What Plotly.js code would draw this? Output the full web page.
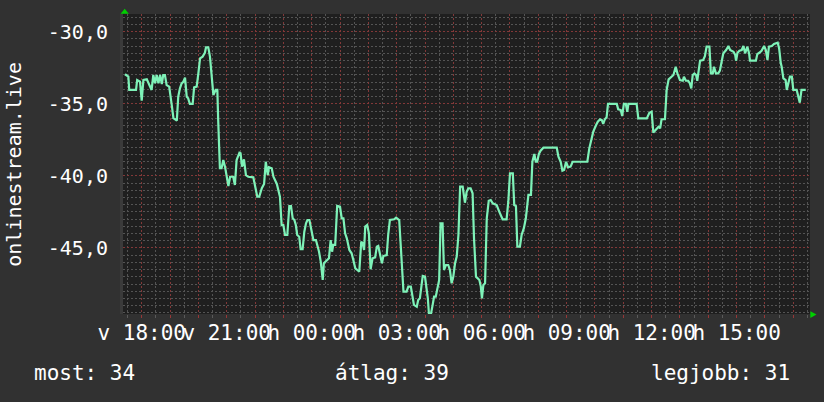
<!DOCTYPE html>
<html>
<head>
<meta charset="utf-8">
<script src="https://cdn.plot.ly/plotly-3.0.1.min.js"></script>
<style>html,body{margin:0;padding:0;background:#313131;}#chart{width:824px;height:402px;}</style>
</head>
<body>
<div id="chart"></div>
<script>
// hours since Sunday 18:00
const hours = [
-0.59,-0.47,-0.44,-0.20,-0.16,-0.06,0.00,0.06,0.18,0.23,
0.35,0.41,0.47,0.53,0.59,0.65,0.71,0.76,0.82,0.88,
0.97,1.06,1.12,1.24,1.29,1.35,1.41,1.47,1.53,1.59,
1.64,1.70,1.80,1.85,1.94,2.00,2.06,2.15,2.23,2.27,
2.35,2.41,2.47,2.53,2.61,2.67,2.70,2.76,2.82,2.88,
2.94,3.00,3.06,3.12,3.23,3.29,3.35,3.45,3.49,3.54,
3.61,3.68,3.76,3.94,4.00,4.08,4.15,4.24,4.32,4.38,
4.45,4.49,4.59,4.65,4.77,4.88,
4.94,5.00,5.06,5.14,5.21,5.27,5.33,5.39,5.44,5.49,
5.56,5.61,5.68,5.74,5.80,5.85,5.92,5.98,6.06,6.15,
6.26,6.32,6.39,6.43,6.53,6.61,6.67,6.72,6.76,6.83,
6.90,7.00,7.06,7.12,7.18,7.24,7.33,7.41,7.47,7.54,
7.61,7.68,7.75,7.80,7.85,7.89,7.96,8.02,8.08,8.15,
8.24,8.30,8.35,8.41,8.48,8.53,8.65,8.70,8.76,8.91,
8.98,9.09,9.18,9.24,9.35,9.41,9.50,9.55,9.61,9.71,
9.76,9.82,9.88,9.92,10.00,10.04,10.10,10.14,10.21,10.27,
10.32,10.38,10.43,10.50,10.55,10.62,10.67,10.74,10.82,10.88,
10.94,11.00,11.06,11.12,11.18,11.24,11.33,11.41,11.47,11.53,
11.61,11.68,11.73,11.80,11.92,11.97,12.01,12.06,12.12,12.18,
12.25,12.32,12.39,12.53,12.62,12.74,12.88,12.94,13.00,13.10,
13.15,13.21,13.26,13.35,13.41,13.49,13.56,13.65,13.74,
13.79,13.86,13.91,13.96,14.02,14.08,14.18,14.65,14.71,14.79,
14.85,14.91,14.98,15.05,15.14,15.21,15.73,15.80,15.88,15.94,
16.04,16.10,16.18,16.24,16.29,16.35,16.41,16.46,16.77,16.82,
16.91,16.96,17.02,17.09,17.14,17.18,17.47,17.53,17.83,17.92,
18.00,18.06,18.14,18.24,18.30,18.35,18.47,18.53,18.60,18.71,
18.77,18.85,18.91,19.00,19.10,19.14,19.21,19.29,19.35,19.40,
19.45,19.51,19.57,19.61,19.65,19.71,19.82,19.88,19.94,20.04,
20.09,20.16,20.20,20.27,20.35,20.41,20.47,20.53,20.63,20.71,
20.77,20.85,20.89,20.95,20.98,21.03,21.10,21.18,21.24,21.30,
21.38,21.44,21.47,21.68,21.73,21.80,21.88,21.97,22.03,22.09,
22.14,22.24,22.32,22.45,22.50,22.56,22.59,22.65,22.73,22.77,
22.82,22.88,22.95,23.00,23.12,23.17,23.23,23.29,23.44
];
const values = [
-32.95,-33.12,-34.04,-34.04,-33.35,-33.47,-34.78,-33.35,-33.30,-33.54,
-34.04,-33.00,-33.58,-33.00,-33.58,-33.00,-33.63,-33.00,-33.00,-33.70,
-33.81,-35.08,-36.00,-36.17,-34.51,-33.93,-33.58,-33.47,-33.19,-34.51,
-34.62,-35.01,-35.01,-33.86,-33.81,-32.89,-31.85,-31.73,-31.46,-31.08,
-31.08,-31.73,-32.89,-34.39,-34.04,-34.04,-36.12,-39.47,-39.47,-38.90,
-39.36,-40.06,-40.70,-40.06,-40.06,-40.63,-38.90,-38.39,-38.43,-39.36,
-38.85,-39.94,-40.06,-40.10,-40.63,-41.44,-41.44,-40.86,-40.56,-39.02,
-39.94,-39.40,-39.47,-40.06,-40.56,-41.44,
-43.41,-43.41,-44.10,-44.10,-42.09,-42.09,-42.94,-43.06,-43.41,-44.10,
-44.22,-45.09,-45.09,-43.87,-43.29,-43.06,-43.06,-43.63,-44.45,-44.45,
-45.26,-45.95,-47.22,-46.06,-45.83,-45.71,-44.45,-45.26,-44.79,-44.79,
-42.09,-42.14,-42.94,-42.94,-43.98,-44.33,-45.14,-45.37,-45.83,-46.41,
-46.53,-46.64,-44.56,-44.67,-45.14,-43.52,-43.41,-43.98,-46.48,-45.71,
-45.65,-44.91,-44.86,-45.37,-46.06,-45.56,-45.49,-44.10,-43.06,-43.01,
-42.90,-43.06,-46.53,-48.03,-48.03,-47.68,-47.68,-48.38,-48.95,-49.07,
-48.61,-48.49,-47.45,-46.94,-46.99,-47.64,-48.49,-49.58,-49.58,-48.95,
-48.38,-48.38,-47.80,-47.22,-43.29,-43.29,-46.53,-46.18,-46.18,-46.53,
-47.45,-46.99,-46.06,-45.60,-44.10,-40.75,-40.75,-41.86,-41.10,-40.86,
-40.86,-41.21,-44.33,-46.99,-47.22,-47.68,-48.49,-47.57,-47.45,-42.94,
-41.72,-41.67,-41.90,-42.02,-42.48,-43.01,-43.01,-41.79,-39.82,-39.82,
-42.02,-42.09,-44.91,-44.91,-44.10,-43.63,-42.94,-41.32,-41.32,
-39.02,-38.48,-39.02,-39.02,-38.48,-38.25,-38.04,-38.04,-38.67,-39.02,
-39.64,-39.59,-39.02,-39.40,-39.36,-39.02,-39.02,-38.09,-37.39,-36.93,
-36.47,-36.24,-36.07,-36.12,-36.40,-36.07,-35.94,-35.01,-35.01,-35.38,
-35.43,-35.85,-35.01,-35.01,-35.55,-35.01,-35.01,-36.01,-36.01,-35.62,
-35.55,-37.00,-36.82,-36.59,-36.70,-36.07,-36.07,-34.04,-33.30,-33.12,
-33.00,-32.43,-32.89,-33.35,-33.40,-33.12,-33.40,-33.40,-33.58,-33.93,
-33.00,-32.89,-33.00,-33.40,-32.66,-32.01,-31.96,-31.69,-31.04,-31.04,
-32.89,-32.89,-32.43,-32.89,-32.89,-32.70,-32.08,-31.50,-31.27,-30.99,
-31.27,-31.39,-31.39,-31.62,-32.01,-31.46,-31.32,-31.27,-30.99,-31.50,
-31.04,-31.50,-32.01,-32.01,-31.55,-31.46,-31.32,-30.99,-31.27,-31.96,
-31.04,-30.99,-30.85,-30.76,-31.15,-32.19,-32.43,-33.23,-33.35,-34.04,
-33.70,-33.12,-33.12,-34.04,-34.04,-34.39,-34.92,-34.04,-34.04
];
const xTickLabels = ["v 18:00","v 21:00","h 00:00","h 03:00","h 06:00","h 09:00","h 12:00","h 15:00"];
const yTickValues = [-45,-40,-35,-30];
const yTickLabels = ["-45,0","-40,0","-35,0","-30,0"];
const yAxisTitle = "onlinestream.live";
const legendLabels = ["most","átlag","legjobb"];
const legendValues = [34,39,31];

const FONT = "DejaVu Sans Mono, monospace";
const majorGrid = "rgb(130,56,56)";
const minorGrid = "rgb(84,84,84)";
const DASH = "2px,2px";

const xTickVals = [], xTickText = [], xMinorVals = [];
for (let h = 0; h <= 23; h++) {
  xTickVals.push(h);
  xTickText.push(h % 3 === 0 ? xTickLabels[h / 3] : "");
}
for (let h = -0.5; h <= 23.5; h += 1) xMinorVals.push(h);
const yMinorVals = [];
for (let k = -99; k <= -57; k++) { if (k % 10 !== 0) yMinorVals.push(k / 2); }

const trace = {
  x: hours, y: values, type: "scatter", mode: "lines",
  line: {color: "#7ef2b8", width: 2.2}, hoverinfo: "skip"
};

const layout = {
  width: 824, height: 402,
  margin: {l: 123, r: 14, t: 14, b: 88},
  paper_bgcolor: "#313131",
  plot_bgcolor: "#1f1f1f",
  font: {family: FONT, color: "#ffffff", size: 20},
  showlegend: false,
  xaxis: {
    range: [-0.66, 23.59], zeroline: false,
    tickmode: "array", tickvals: xTickVals, ticktext: xTickText, tickangle: 0,
    showgrid: true, gridcolor: majorGrid, griddash: DASH, gridwidth: 1,
    ticks: "outside", ticklen: 3, tickcolor: "rgb(150,55,55)", tickwidth: 1,
    ticklabelstandoff: -3,
    tickfont: {family: FONT, size: 21, color: "#ffffff"},
    showline: false,
    minor: {tickmode: "array", tickvals: xMinorVals, showgrid: true, gridcolor: minorGrid, griddash: DASH, gridwidth: 1, ticks: "outside", ticklen: 3, tickcolor: "rgb(90,90,90)"}
  },
  yaxis: {
    range: [-49.58, -28.77], zeroline: false,
    tickmode: "array", tickvals: yTickValues, ticktext: yTickLabels,
    showgrid: true, gridcolor: majorGrid, griddash: DASH, gridwidth: 1,
    ticks: "", ticklabelstandoff: 8,
    tickfont: {family: FONT, size: 20, color: "#ffffff"},
    showline: true, linecolor: "#3a3a3a", linewidth: 3,
    minor: {tickmode: "array", tickvals: yMinorVals, showgrid: true, gridcolor: minorGrid, griddash: DASH, gridwidth: 1}
  },
  annotations: [
    {text: yAxisTitle, xref: "paper", yref: "paper", x: -0.159, y: 0.5, xanchor: "center", yanchor: "middle", textangle: -90, showarrow: false, font: {family: FONT, size: 20, color: "#ffffff"}},
    {text: legendLabels[0] + ": " + legendValues[0], xref: "paper", yref: "paper", x: -0.133, y: -0.198, xanchor: "left", yanchor: "middle", showarrow: false, font: {family: FONT, size: 21, color: "#ffffff"}},
    {text: legendLabels[1] + ": " + legendValues[1], xref: "paper", yref: "paper", x: 0.305, y: -0.198, xanchor: "left", yanchor: "middle", showarrow: false, font: {family: FONT, size: 21, color: "#ffffff"}},
    {text: legendLabels[2] + ": " + legendValues[2], xref: "paper", yref: "paper", x: 0.974, y: -0.198, xanchor: "right", yanchor: "middle", showarrow: false, font: {family: FONT, size: 21, color: "#ffffff"}}
  ],
  shapes: [
    {type: "path", xref: "paper", yref: "paper", path: "M -0.0035 1.0005 L 0.0025 1.0175 L 0.0085 1.0005 Z", fillcolor: "#00d000", line: {width: 0}},
    {type: "path", xref: "paper", yref: "paper", path: "M 1.0005 0.009 L 1.0095 -0.002 L 1.0005 -0.013 Z", fillcolor: "#00d000", line: {width: 0}}
  ]
};

Plotly.newPlot("chart", [trace], layout, {displayModeBar: false, staticPlot: true});
</script>
</body>
</html>
